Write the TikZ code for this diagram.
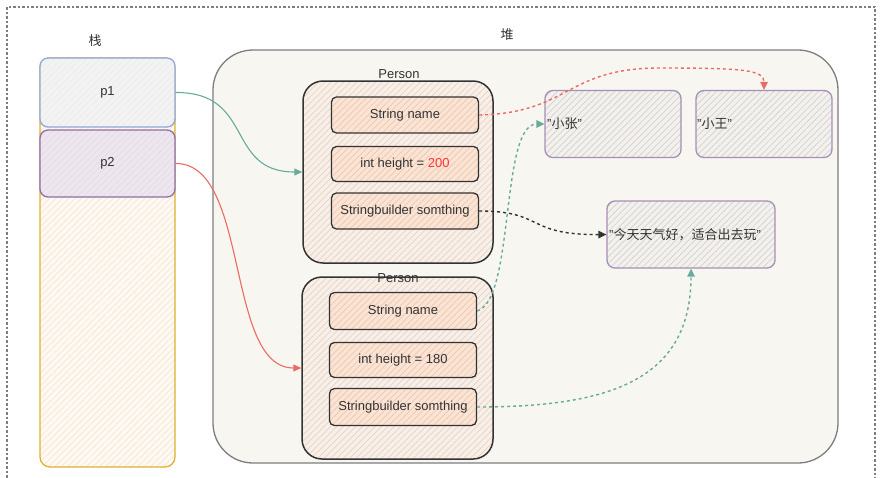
\documentclass[tikz,border=0pt]{standalone}
\usepackage{fontspec}
\setmainfont{Liberation Sans}
\newfontfamily\cjk{Noto Sans CJK SC}
\usetikzlibrary{patterns.meta,arrows.meta}
\definecolor{heapfill}{HTML}{F8F6F0}
\definecolor{heapline}{HTML}{7E7E7E}
\definecolor{stackline}{HTML}{E0B030}
\definecolor{stackfill}{HTML}{FEF9F3}
\definecolor{stackhatch}{HTML}{F8E6D4}
\definecolor{poneline}{HTML}{8FA8D8}
\definecolor{ponefill}{HTML}{F3F3F3}
\definecolor{ptwoline}{HTML}{8E6FA6}
\definecolor{ptwofill}{HTML}{EEE6EE}
\definecolor{personfill}{HTML}{F8F0E8}
\definecolor{personhatch}{HTML}{E6D2C2}
\definecolor{fieldfill}{HTML}{FCE4D4}
\definecolor{fieldhatch}{HTML}{E8C8B2}
\definecolor{strline}{HTML}{A68FB8}
\definecolor{strfill}{HTML}{F3F1EE}
\definecolor{strhatch}{HTML}{D4D0CC}
\definecolor{greenarrow}{HTML}{67AB9F}
\definecolor{redarrow}{HTML}{EA6B66}
\definecolor{darkline}{HTML}{333333}
\definecolor{numred}{HTML}{FF3333}
\tikzset{
  txt/.style={font=\fontsize{13}{15}\selectfont, text=darkline},
  hatch/.style 2 args={preaction={fill=#1}, pattern={Lines[angle=45,distance=4.5pt,line width=0.7pt]}, pattern color=#2},
  box/.style={rectangle, inner sep=0pt, txt},
  stackbox/.style={box, draw=stackline, line width=1.3pt, rounded corners=10pt, hatch={stackfill}{stackhatch}},
  ponebox/.style={box, draw=poneline, line width=1.3pt, rounded corners=8pt, hatch={ponefill}{white!85!gray}},
  ptwobox/.style={box, draw=ptwoline, line width=1.3pt, rounded corners=8pt, hatch={ptwofill}{ptwoline!25}},
  heapbox/.style={box, draw=heapline, line width=1.3pt, rounded corners=40pt, fill=heapfill},
  personbox/.style={box, draw=darkline, line width=1.5pt, rounded corners=20pt, hatch={personfill}{personhatch}},
  fieldbox/.style={box, draw=darkline, line width=1.3pt, rounded corners=5pt, hatch={fieldfill}{fieldhatch}, minimum width=147pt},
  strbox/.style={box, draw=strline, line width=1.3pt, rounded corners=8pt, hatch={strfill}{strhatch}},
  lbl/.style={txt, inner sep=0pt},
  solidarrow/.style={line width=1.1pt, -{Triangle[length=8pt,width=7pt]}},
  dasharrow/.style={line width=1.4pt, dash pattern=on 3pt off 3pt, -{Triangle[length=8pt,width=7.5pt]}},
  frame/.style={draw=heapline, line width=1.2pt, dash pattern=on 2.5pt off 2pt},
}
\begin{document}
\begin{tikzpicture}[x=1pt,y=-1pt]
\useasboundingbox (0,0) rectangle (884,477);
\fill[white] (0,0) rectangle (884,477);
\clip (0,0) rectangle (884,477);
\draw[frame] (7,7) rectangle (875,500);

% stack
\node[lbl] (stacktitle) at (95,41) {\cjk 栈};
\node[stackbox, minimum width=135pt, minimum height=409pt] (stack) at (107.5,262.5) {};
\node[ponebox, minimum width=135pt, minimum height=69pt] (p1) at (107.5,92.5) {p1};
\node[ptwobox, minimum width=135pt, minimum height=67pt] (p2) at (107.5,163.5) {p2};

% heap
\node[heapbox, minimum width=625pt, minimum height=413pt] (heap) at (525.5,256.5) {};
\node[lbl] (heaptitle) at (507,35) {\cjk 堆};

% person 1
\node[personbox, minimum width=190pt, minimum height=182pt] (person1) at (398,172) {};
\node[lbl] (plabel1) at (399,74) {Person};
\node[fieldbox, minimum height=36pt] (name1) at (405,115) {String name};
\node[fieldbox, minimum height=35pt] (height1) at (405,164) {int height = \textcolor{numred}{200}};
\node[fieldbox, minimum height=36pt] (sb1) at (405,211) {Stringbuilder somthing};

% person 2
\node[personbox, minimum width=191pt, minimum height=182pt] (person2) at (397.5,368) {};
\node[lbl] (plabel2) at (398,278) {Person};
\node[fieldbox, minimum height=37pt] (name2) at (403,311) {String name};
\node[fieldbox, minimum height=35pt] (height2) at (403,360) {int height = 180};
\node[fieldbox, minimum height=37pt] (sb2) at (403,407) {Stringbuilder somthing};

% strings
\node[strbox, minimum width=136pt, minimum height=67pt] (zhang) at (613,124) {};
\node[lbl, anchor=west] (zhangtxt) at (547,124) {"{\cjk 小张}"};
\node[strbox, minimum width=136pt, minimum height=67pt] (wang) at (764,124) {};
\node[lbl, anchor=west] (wangtxt) at (697,124) {"{\cjk 小王}"};
\node[strbox, minimum width=168pt, minimum height=67pt] (jt) at (691,234.5) {};
\node[lbl, anchor=west] (jttxt) at (609,234.5) {"{\cjk 今天天气好，适合出去玩}"};

% connectors
\draw[solidarrow, greenarrow] (p1.east) .. controls (255,92) and (225,172) .. (person1.west);
\draw[solidarrow, redarrow] (p2.east) .. controls (250,163) and (225,368) .. (person2.west);
\draw[dasharrow, redarrow] (name1.east) .. controls (570,113) and (565,68) .. (660,68) .. controls (745,68) and (764,70) .. (wang.north);
\draw[dasharrow, darkline] (sb1.east) .. controls (545,211) and (525,235) .. (jt.west);
\draw[dasharrow, greenarrow] (name2.east) .. controls (515,300) and (500,124) .. (zhang.west);
\draw[dasharrow, greenarrow] (sb2.east) .. controls (610,407) and (691,380) .. (jt.south);
\end{tikzpicture}
\end{document}
